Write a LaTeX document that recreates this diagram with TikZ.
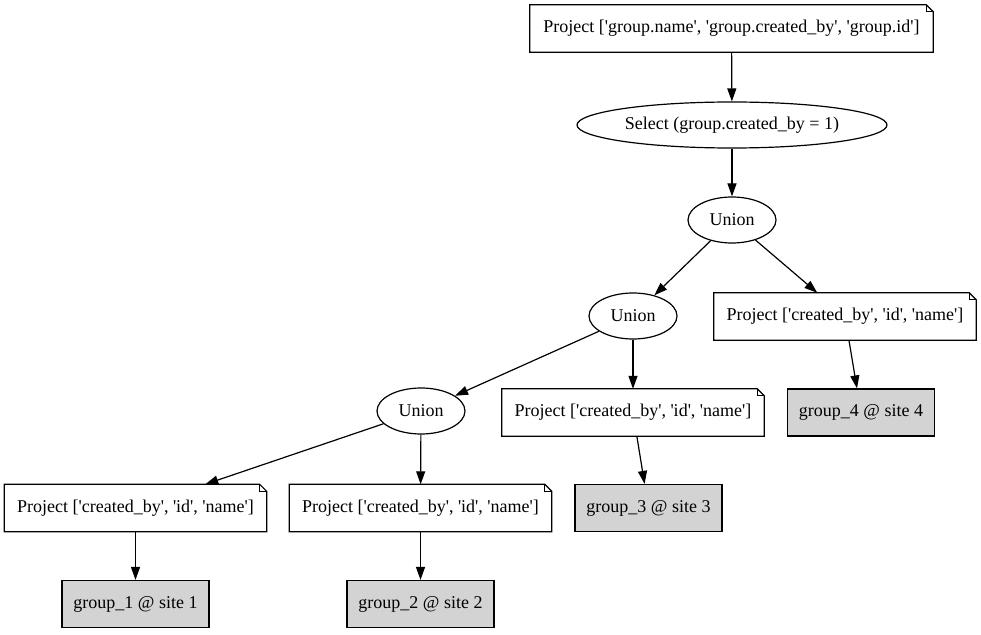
\documentclass[tikz,border=0pt]{standalone}
\usepackage{fontspec}
\newfontfamily\gvfont{Liberation Serif}
\usetikzlibrary{shapes.geometric,arrows.meta}
\begin{document}
\begin{tikzpicture}[x=1bp,y=-1bp,
  every node/.style={font=\gvfont\fontsize{18bp}{21bp}\selectfont, inner sep=0pt},
  notebox/.style={rectangle, minimum width=262bp, minimum height=47bp},
  oval/.style={ellipse, draw, line width=1.2bp, minimum width=88bp, minimum height=46bp},
  site/.style={rectangle, draw, line width=1.2bp, fill={rgb,255:red,211;green,211;blue,211}, minimum width=147bp, minimum height=47bp},
  edge/.style={line width=1.2bp, -{Triangle[length=13bp,width=9bp]}}]
\useasboundingbox (0,0) rectangle (981,635);
\node[notebox, minimum width=403bp] (p0) at (731.5,28.5) {Project [\textquotesingle group.name\textquotesingle, \textquotesingle group.created\_by\textquotesingle, \textquotesingle group.id\textquotesingle]};
\node[oval, minimum width=310bp] (sel) at (732,125) {Select (group.created\_by = 1)};
\node[oval] (u1) at (732,220) {Union};
\node[oval] (u2) at (633,316) {Union};
\node[notebox] (p4) at (845,316.5) {Project [\textquotesingle created\_by\textquotesingle, \textquotesingle id\textquotesingle, \textquotesingle name\textquotesingle]};
\node[site] (g4) at (861,412.5) {group\_4 @ site 4};
\node[oval] (u3) at (421,411) {Union};
\node[notebox] (p3) at (633,412.5) {Project [\textquotesingle created\_by\textquotesingle, \textquotesingle id\textquotesingle, \textquotesingle name\textquotesingle]};
\node[site] (g3) at (648.5,508) {group\_3 @ site 3};
\node[notebox] (p1) at (135.5,508) {Project [\textquotesingle created\_by\textquotesingle, \textquotesingle id\textquotesingle, \textquotesingle name\textquotesingle]};
\node[notebox] (p2) at (420.5,508) {Project [\textquotesingle created\_by\textquotesingle, \textquotesingle id\textquotesingle, \textquotesingle name\textquotesingle]};
\node[site] (g1) at (135.5,604) {group\_1 @ site 1};
\node[site] (g2) at (420.5,604) {group\_2 @ site 2};
\foreach \n in {p0,p1,p2,p3,p4}{
  \draw[line width=1.2bp, line join=miter]
    (\n.north west) -- ([xshift=-7bp]\n.north east) -- ([yshift=-7bp]\n.north east)
    -- (\n.south east) -- (\n.south west) -- cycle;
  \draw[line width=1bp]
    ([xshift=-7bp]\n.north east) -- ([xshift=-7bp,yshift=-7bp]\n.north east) -- ([yshift=-7bp]\n.north east);
}
\draw[edge] (p0) -- (sel);
\draw[edge] (sel) -- (u1);
\draw[edge] (u1) -- (u2);
\draw[edge] (u1) -- (p4);
\draw[edge] (p4) -- (g4);
\draw[edge] (u2) -- (u3);
\draw[edge] (u2) -- (p3);
\draw[edge] (p3) -- (g3);
\draw[edge] (u3) -- (p1);
\draw[edge] (u3) -- (p2);
\draw[edge] (p1) -- (g1);
\draw[edge] (p2) -- (g2);
\end{tikzpicture}
\end{document}
